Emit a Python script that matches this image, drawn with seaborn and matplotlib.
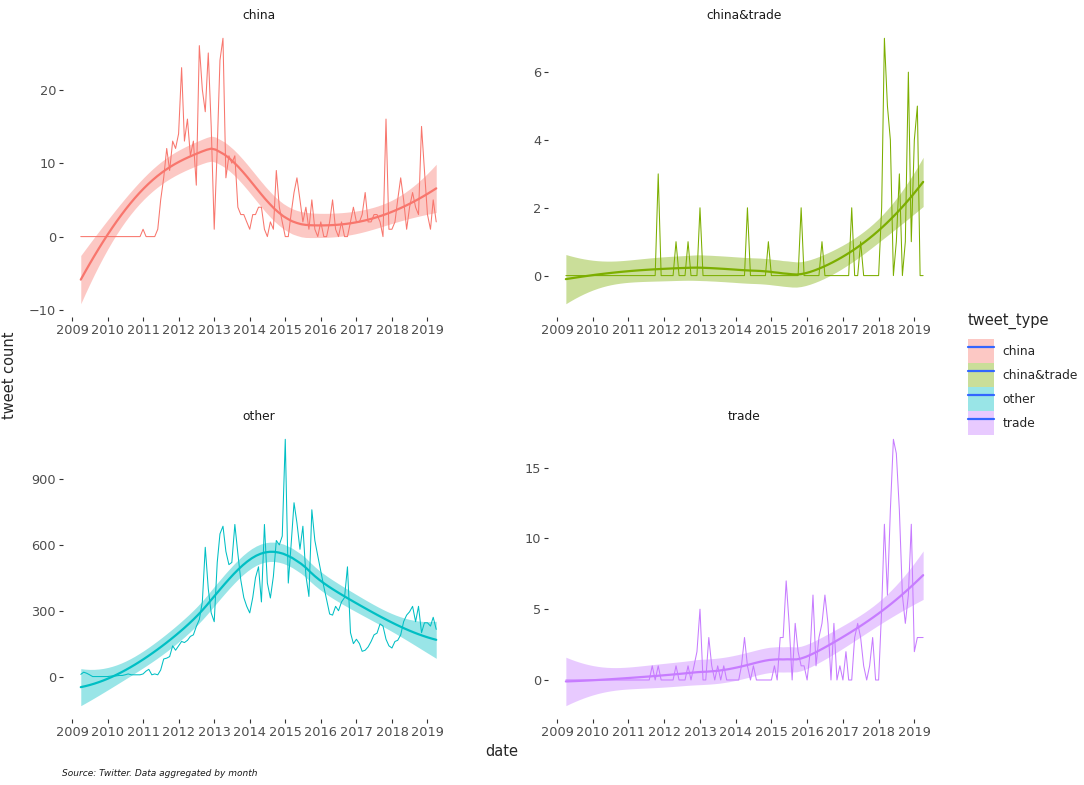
import numpy as np
import pandas as pd
import seaborn as sns
import matplotlib.pyplot as plt
import matplotlib.dates as mdates
from matplotlib.patches import Patch
from matplotlib.lines import Line2D
from matplotlib.legend_handler import HandlerTuple

# monthly tweet counts, April 2009 .. April 2019
months = pd.date_range('2009-04-01', '2019-04-01', freq='MS')

china = [0] * 21 + [1, 0, 0, 0, 0, 1,
         5, 8, 12, 9, 13, 12, 14, 23, 13, 16, 11, 13, 7, 26, 20, 17, 25, 15,
         1, 12, 24, 27, 8, 11, 10, 11, 4, 3, 3, 2, 1, 3, 3,
         4, 4, 1, 0, 2, 1, 9, 4, 2, 0, 0, 3, 6, 8, 5, 2, 4, 1, 5, 1, 0,
         2, 0, 0, 2, 5, 1, 0, 2, 0, 0, 2, 4, 2, 2, 3, 6, 2, 2, 3, 3,
         2, 0, 16, 1, 1, 2, 5, 8, 5, 1, 4, 6, 4, 3, 15, 9, 3, 1, 5, 2]

china_trade = [0] * 31 + [3, 0, 0, 0, 0, 0, 1, 0, 0, 0, 1, 0, 0, 0, 2,
               0, 0, 0, 0, 0, 0, 0, 0, 0, 0, 0, 0, 0, 0, 0, 2,
               0, 0, 0, 0, 0, 0, 1, 0, 0, 0, 0, 0, 0, 0, 0, 0, 0, 2,
               0, 0, 0, 0, 0, 0, 1, 0, 0, 0, 0, 0, 0, 0, 0, 0, 2,
               0, 0, 1, 0, 0, 0, 0, 0, 0, 2, 7, 5, 4, 0, 1, 3, 0, 1,
               6, 1, 4, 5, 0, 0]

other = [10, 20, 15, 8, 0, 0, 0, 0, 0, 0, 2, 3, 3, 5, 5, 8, 12, 8, 8, 8,
         8, 12, 25, 33, 8, 12, 8, 30, 80, 84, 91, 140, 120, 140, 160, 155,
         165, 183, 190, 228, 260, 340, 589, 400, 290, 250, 520, 650, 685,
         570, 510, 520, 693, 560, 440, 360, 320, 290, 360, 450, 500, 340,
         693, 426, 358, 457, 620, 600, 640, 1081, 426, 594, 792, 700, 580,
         685, 460, 365, 760, 620, 550, 480, 410, 350, 285, 280, 320, 300,
         340, 360, 500, 200, 150, 170, 150, 115, 120, 135, 160, 190, 198,
         240, 230, 170, 140, 130, 160, 165, 190, 250, 280, 295, 320, 250,
         320, 200, 245, 245, 230, 270, 215]

trade = [0] * 29 + [1, 0, 1, 0, 0, 0, 0, 0, 1, 0, 0, 0, 1, 0, 1, 2, 5,
         0, 0, 3, 1, 0, 1, 0, 1, 0, 0, 0, 0, 0, 1, 3, 1, 0, 1, 0, 0, 0,
         0, 0, 0, 1, 0, 3, 3, 7, 4, 0, 4, 2, 1, 1, 0, 2, 6, 1, 3, 4, 6,
         4, 0, 4, 0, 1, 0, 2, 0, 0, 3, 4, 3, 1, 0, 1, 3, 0, 0, 5, 11, 6,
         12, 17, 16, 12, 6, 4, 6, 11, 2, 3, 3, 3]

tweet_types = ['china', 'china&trade', 'other', 'trade']
series = [china, china_trade, other, trade]
colors = ['#F8766D', '#7CAE00', '#00BFC4', '#C77CFF']
y_ticks = [[-10, 0, 10, 20], [0, 2, 4, 6], [0, 300, 600, 900], [0, 5, 10, 15]]
year_ticks = pd.date_range('2009-01-01', '2019-01-01', freq='YS')


def loess(x, y, xs, span=0.75):
    # local quadratic fit with tricube weights, like R's loess
    n = len(x)
    q = int(np.floor(n * span))

    def row(x0):
        d = np.abs(x - x0)
        h = np.sort(d)[q - 1]
        w = np.clip(1 - (d / h) ** 3, 0, None) ** 3
        X = np.column_stack([np.ones(n), x - x0, (x - x0) ** 2])
        XtW = X.T * w
        return np.linalg.solve(XtW @ X, XtW)[0]

    L = np.array([row(v) for v in x])
    res = y - L @ y
    IL = np.eye(n) - L
    delta1 = np.trace(IL.T @ IL)
    s = np.sqrt(np.sum(res ** 2) / delta1)
    Ls = np.array([row(v) for v in xs])
    fit = Ls @ y
    se = s * np.sqrt(np.sum(Ls ** 2, axis=1))
    return fit, se


sns.set_style('white')
plt.rcParams['font.family'] = ['DejaVu Sans']

fig = plt.figure(figsize=(10.84, 7.85), dpi=100)
W, H = 1084, 785
boxes = [(63, 25, 391, 292), (548, 25, 393, 292),
         (63, 426, 391, 293), (548, 426, 393, 293)]

xnum = np.arange(len(months), dtype=float)
xs = np.linspace(0, len(months) - 1, 80)
xs_dates = months[0] + pd.to_timedelta(xs * (months[-1] - months[0]).days / (len(months) - 1), unit='D')

for i, (name, vals, col) in enumerate(zip(tweet_types, series, colors)):
    x0, y0, w, h = boxes[i]
    ax = fig.add_axes([x0 / W, 1 - (y0 + h) / H, w / W, h / H])
    y = np.array(vals, dtype=float)
    df = pd.DataFrame({'date': months, 'count': y})

    fit, se = loess(xnum, y, xs)
    lo, hi = fit - 1.98 * se, fit + 1.98 * se

    sns.lineplot(data=df, x='date', y='count', color=col, lw=0.75, ax=ax)
    ax.fill_between(xs_dates, lo, hi, color=col, alpha=0.4, lw=0)
    ax.plot(xs_dates, fit, color=col, lw=1.6)

    # ggplot-like 5% expansion
    ymin, ymax = min(y.min(), lo.min()), max(y.max(), hi.max())
    pad = (ymax - ymin) * 0.05
    ax.set_ylim(ymin - pad, ymax + pad)
    span = months[-1] - months[0]
    ax.set_xlim(months[0] - span * 0.05, months[-1] + span * 0.05)

    ax.set_xticks(year_ticks)
    ax.xaxis.set_major_formatter(mdates.DateFormatter('%Y'))
    ax.set_yticks(y_ticks[i])
    ax.tick_params(axis='both', which='major', length=3, width=0.8, color='#333333',
                   labelcolor='#4D4D4D', labelsize=9.3, pad=2, direction='out',
                   bottom=True, left=True)
    for sp in ax.spines.values():
        sp.set_visible(False)
    ax.set_xlabel('')
    ax.set_ylabel('')
    ax.set_title(name, fontsize=8.8, color='#1A1A1A', pad=4)

fig.text(502 / W, 1 - 752 / H, 'date', ha='center', va='center', fontsize=10.5)
fig.text(10 / W, 1 - 375 / H, 'tweet count', ha='center', va='center', rotation=90, fontsize=10.5)
fig.text(62 / W, 1 - 773 / H, 'Source: Twitter. Data aggregated by month',
         ha='left', va='center', fontsize=6.5, style='italic', color='#1A1A1A')

handles = [(Patch(facecolor=c, alpha=0.4, lw=0), Line2D([], [], color='#3366FF', lw=1.6))
           for c in colors]
leg = fig.legend(handles, tweet_types, handler_map={tuple: HandlerTuple(ndivide=1, pad=0)},
                 loc='upper left', bbox_to_anchor=(968 / W, 1 - 313 / H), frameon=False,
                 title='tweet_type', fontsize=8.8, title_fontsize=10.5,
                 handlelength=2.1, handleheight=2.65, labelspacing=0.0, handletextpad=0.7,
                 borderaxespad=0, borderpad=0)
leg._legend_box.align = 'left'
leg._legend_box.sep = 7

plt.savefig('out.png', dpi=100)
